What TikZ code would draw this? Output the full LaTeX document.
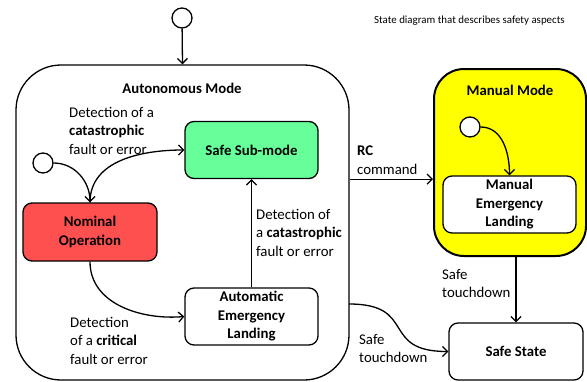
\documentclass[tikz,border=0pt]{standalone}
\usepackage{fontspec}
\setmainfont{Carlito}
\usetikzlibrary{arrows.meta}
\definecolor{safegreen}{RGB}{102,255,153}
\definecolor{nomred}{RGB}{255,80,80}
\definecolor{manyellow}{RGB}{255,255,0}

\begin{document}
\begin{tikzpicture}[x=1pt, y=-1pt,
    font=\fontsize{14.8}{18.5}\selectfont,
    mode/.style={draw, line width=1.3pt, fill=white, inner sep=0pt},
    state/.style={draw, line width=1.3pt, rounded corners=9pt, fill=white,
        minimum width=133pt, minimum height=57pt, align=center, inner sep=0pt,
        font=\fontsize{14.8}{18.5}\selectfont\bfseries},
    initial/.style={draw, circle, line width=1.3pt, fill=white, minimum size=20pt, inner sep=0pt},
    trans/.style={line width=1.3pt, -{Straight Barb[length=5pt, width=10pt]}},
    note/.style={align=left, anchor=north west, inner sep=0pt}]
    % canvas in pixels of the reference: x right, y down
    \useasboundingbox (0,0) rectangle (587,381);
    \node[anchor=north west, inner sep=0pt, font=\fontsize{10.9}{12}\selectfont] (caption) at (374,16) {State diagram that describes safety aspects};
    % containers
    \node[mode, rounded corners=45pt, minimum width=333pt, minimum height=315pt] (auto) at (182.5,222.5) {};
    \node[font=\fontsize{14.8}{18.5}\selectfont\bfseries] (autotitle) at (182,88) {Autonomous Mode};
    \node[mode, line width=2pt, fill=manyellow, rounded corners=30pt, minimum width=152pt, minimum height=187pt] (manual) at (510,162.5) {};
    \node[font=\fontsize{14.8}{18.5}\selectfont\bfseries] (manualtitle) at (510,90) {Manual Mode};
    % states
    \node[initial] (init0) at (182,18) {};
    \node[initial] (init1) at (43,163) {};
    \node[initial] (init2) at (470,127) {};
    \node[state, fill=safegreen] (safe) at (251.5,150) {Safe Sub-mode};
    \node[state, fill=nomred, minimum width=134pt, minimum height=58pt] (nom) at (90,232) {Nominal\\Operation};
    \node[state] (aland) at (251.5,316.5) {Automatic\\Emergency\\Landing};
    \node[state] (mland) at (509.5,204.5) {Manual\\Emergency\\Landing};
    \node[state, minimum width=134pt] (safestate) at (516,351.5) {Safe State};
    \coordinate (tdstart) at (349,304);
    % transitions
    \draw[trans] (init0) -- (auto.north);
    \draw[trans] (init1.east) to[out=0, in=90] (nom.north);
    \draw[trans] (nom.north) to[out=90, in=180] (safe.west);
    \draw[trans] (nom.south) to[out=-90, in=185] (aland.west);
    \draw[trans] (aland.north) -- (safe.south);
    \draw[trans] (safe.south east -| auto.east) -- (safe.south east -| manual.west);
    \draw[trans] (init2.east) to[out=0, in=90] (mland.north);
    \draw[trans] (safestate.north |- manual.south) -- (safestate.north);
    \draw[trans] (tdstart) to[out=0, in=180, looseness=1.6] (safestate.west);
    % transition labels
    \node[note] (lcat1) at (69,107) {Detection of a\\\textbf{catastrophic}\\fault or error};
    \node[note] (lcrit) at (70,317) {Detection\\of a \textbf{critical}\\fault or error};
    \node[note] (lcat2) at (256,209) {Detection of\\a \textbf{catastrophic}\\fault or error};
    \node[note] (lrc) at (357,146) {\textbf{RC}\\command};
    \node[note] (ltd1) at (442,269) {Safe\\touchdown};
    \node[note] (ltd2) at (359,334) {Safe\\touchdown};
\end{tikzpicture}
\end{document}
